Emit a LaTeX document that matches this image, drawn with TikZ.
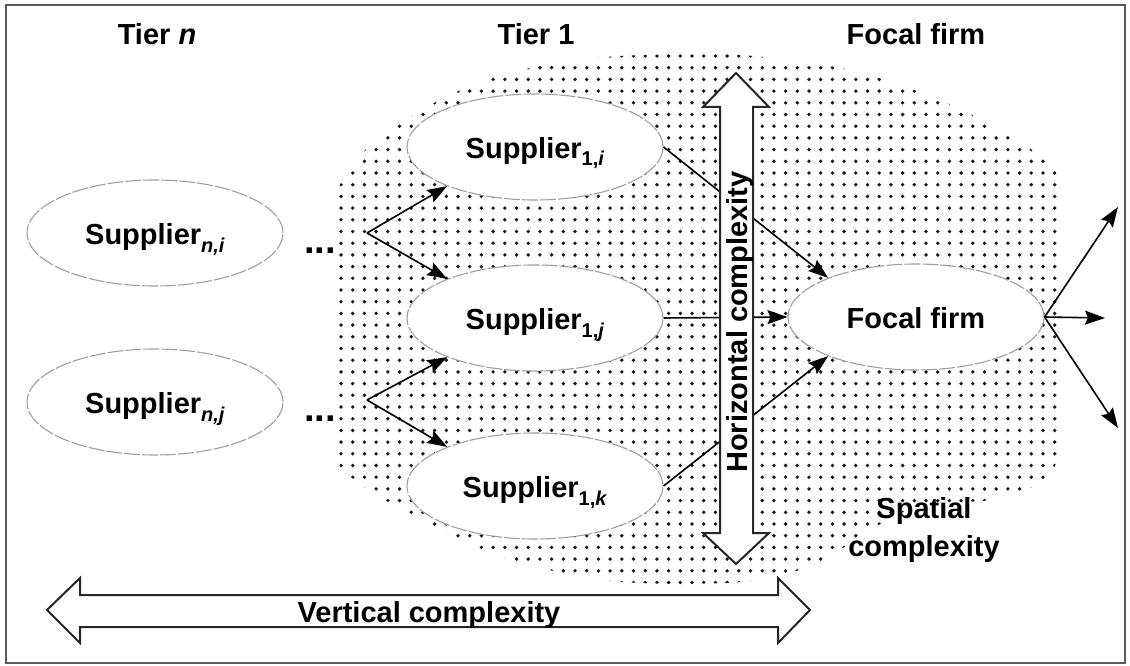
\documentclass[tikz,border=0pt]{standalone}
\usepackage{fontspec}
\setmainfont{Liberation Sans}
\usetikzlibrary{arrows.meta,shapes.geometric}
\newcommand{\sbx}[1]{\raisebox{-8pt}{\fontsize{20}{22}\selectfont\bfseries #1}}
\begin{document}
\begin{tikzpicture}[x=1pt,y=-1pt,
  every node/.style={font=\fontsize{29}{34}\selectfont\bfseries},
  sup/.style={ellipse, draw=gray!75, line width=1.1pt, dash pattern=on 16pt off 2pt,
    fill=white, minimum width=256pt, minimum height=106pt, inner sep=0pt,
    text height=34pt, text depth=12pt},
  conn/.style={line width=1.6pt, -{Stealth[length=20pt,width=14pt,inset=3pt]}},
  fat/.style={draw=black!85, line width=2pt, fill=white, line join=miter},
  dotfill/.style={fill=black!90}
]
\useasboundingbox (0,0) rectangle (1130,666);
\draw[line width=2pt, draw=black!65] (6,5) rectangle (1125,663);

% dotted spatial region
\begin{scope}
\clip plot[smooth cycle, tension=0.5] coordinates {
 (338,330) (338,200) (345,178) (365,150) (395,127) (430,105) (480,82) (540,66)
 (620,56) (740,55) (850,70) (940,100) (1005,133) (1045,160) (1059,185) (1059,300)
 (1059,450) (1035,485) (990,500) (920,506) (870,530) (820,562) (760,580)
 (680,584) (600,580) (530,565) (470,545) (420,520) (385,500) (352,478) (338,455)};
\foreach \i in {0,...,62}{
  \foreach \j in {0,...,45}{
    \fill[dotfill] (341+\i*11.7, 56+\j*11.7) circle (1.9);
  }
}
\end{scope}

% titles
\node[anchor=base] (tn) at (157,45) {Tier \textit{n}};
\node[anchor=base] (t1) at (536,45) {Tier 1};
\node[anchor=base] (tf) at (916,45) {Focal firm};

% ellipses
\node[sup] (sni) at (155,233) {Supplier\sbx{\textit{n,i}}};
\node[sup] (snj) at (155,402) {Supplier\sbx{\textit{n,j}}};
\node[sup] (s1i) at (535,147) {Supplier\sbx{1,\textit{i}}};
\node[sup] (s1j) at (535,318) {Supplier\sbx{1,\textit{j}}};
\node[sup] (s1k) at (535,486) {Supplier\sbx{1,\textit{k}}};
\node[sup] (ff) at (916,317) {Focal firm};

% ellipsis dots
\node[anchor=base west, inner sep=0pt, font=\fontsize{38}{40}\selectfont\bfseries] (di) at (304,253) {...};
\node[anchor=base west, inner sep=0pt, font=\fontsize{38}{40}\selectfont\bfseries] (dj) at (304,421) {...};

\coordinate (fi) at (367,233);
\coordinate (fj) at (367,400);
\draw[conn] (fi) -- (s1i.204);
\draw[conn] (fi) -- (s1j.156);
\draw[conn] (fj) -- (s1j.204);
\draw[conn] (fj) -- (s1k.156);

\draw[conn] (s1i.east) -- (ff.156);
\draw[conn] (s1j.east) -- (ff.west);
\draw[conn] (s1k.east) -- (ff.204);

\coordinate (o1) at (1118,207);
\coordinate (o2) at (1105,318);
\coordinate (o3) at (1118,428);
\draw[conn] (ff.east) -- (o1);
\draw[conn] (ff.east) -- (o2);
\draw[conn] (ff.east) -- (o3);

% horizontal complexity (vertical double arrow)
\draw[fat] (736,73) -- (769,107) -- (753,107) -- (753,533) -- (769,533) -- (736,564)
  -- (703,533) -- (720,533) -- (720,107) -- (703,107) -- cycle;
\node[anchor=base, rotate=90, inner sep=0pt] (hc) at (747,322) {Horizontal complexity};

% vertical complexity (horizontal double arrow)
\draw[fat] (47,610) -- (80,578) -- (80,595) -- (778,595) -- (778,578) -- (810,610)
  -- (778,643) -- (778,627) -- (80,627) -- (80,643) -- cycle;
\node[anchor=base, inner sep=0pt] (vc) at (429,622) {Vertical complexity};

% spatial complexity
\node[anchor=base, inner sep=0pt] (sp1) at (924,518) {Spatial};
\node[anchor=base, inner sep=0pt] (sp2) at (924,556) {complexity};
\end{tikzpicture}
\end{document}
